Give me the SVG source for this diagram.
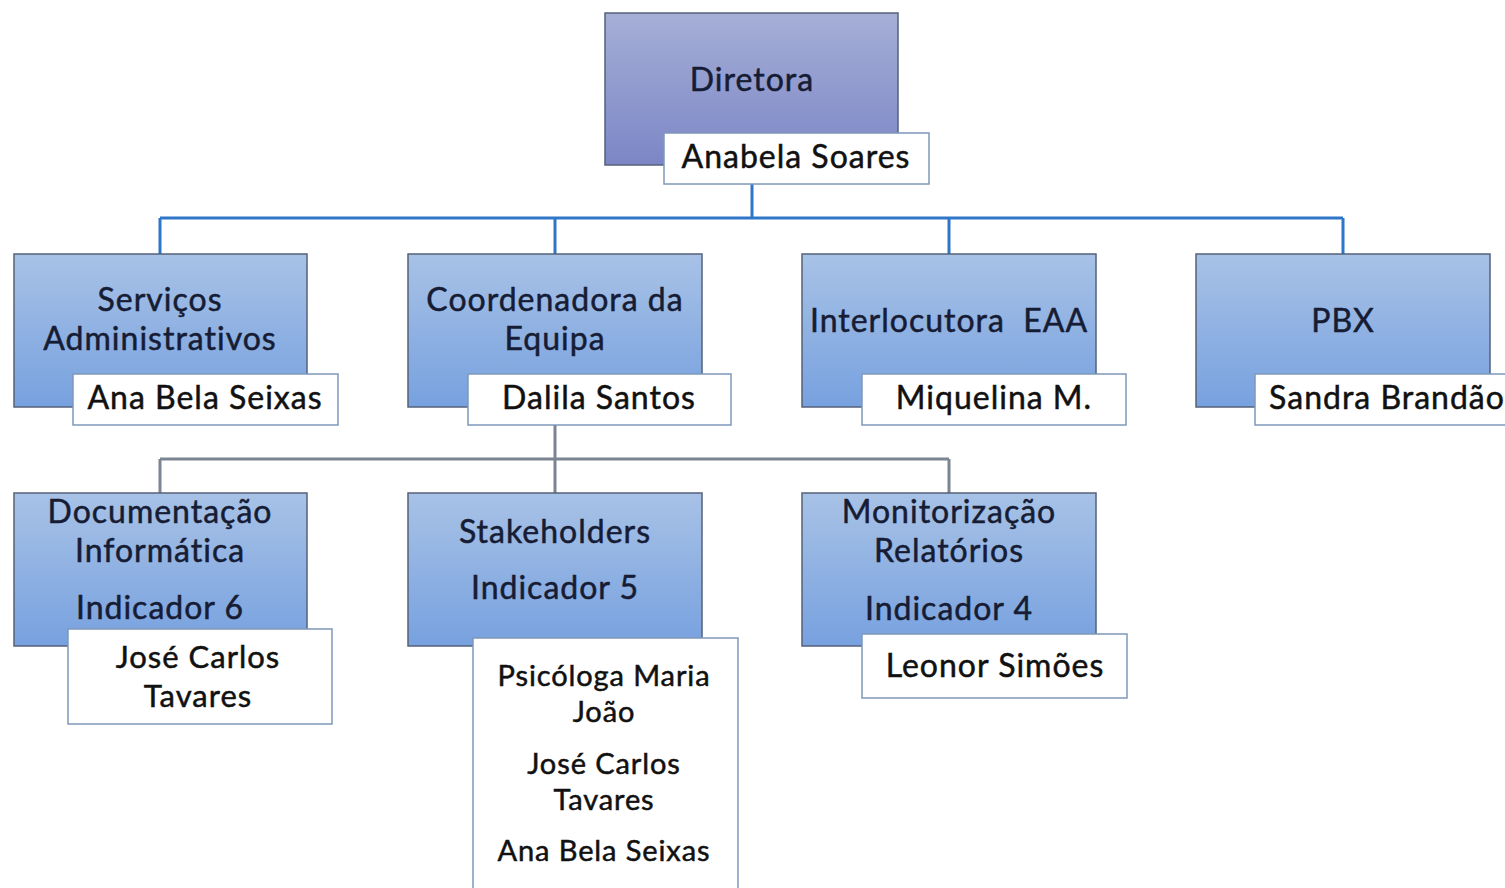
<svg xmlns="http://www.w3.org/2000/svg" width="1505" height="888" viewBox="0 0 1505 888">
<defs>
<linearGradient id="gTop" x1="0" y1="0" x2="0" y2="1">
<stop offset="0" stop-color="#a5afd6"/>
<stop offset="1" stop-color="#7c86c6"/>
</linearGradient>
<linearGradient id="gBox" x1="0" y1="0" x2="0" y2="1">
<stop offset="0" stop-color="#a8c2e6"/>
<stop offset="1" stop-color="#77a1df"/>
</linearGradient>
<style>
.box{fill:url(#gBox);stroke:#56627a;stroke-width:1.5}
.top{fill:url(#gTop);stroke:#56607a;stroke-width:1.5}
.name{fill:#ffffff;stroke:#7f98bb;stroke-width:1.5}
.t{font-family:Lato,"Open Sans","Liberation Sans",sans-serif;font-size:32px;letter-spacing:1px;fill:#161c34;stroke:#161c34;stroke-width:0.5;text-anchor:middle}
.n{font-family:Lato,"Open Sans","Liberation Sans",sans-serif;font-size:32px;letter-spacing:1px;fill:#111111;stroke:#111111;stroke-width:0.5;text-anchor:middle}
.s{font-size:29px;letter-spacing:0.9px}
.blue{fill:none;stroke:#2e77c8;stroke-width:3}
.gray{fill:none;stroke:#7b8591;stroke-width:3}
</style>
</defs>
<rect x="0" y="0" width="1505" height="888" fill="#ffffff"/>
<g id="connectors">
<path class="blue" d="M752 184 V218 M160 218 H1343 M160 218 V254 M555 218 V254 M949 218 V254 M1343 218 V254"/>
<path class="gray" d="M555 425 V493 M160 459 H949 M160 459 V493 M949 459 V493"/>
</g>
<g id="diretora">
<rect class="top" x="605" y="13" width="293" height="152"/>
<text class="t" x="752" y="91">Diretora</text>
<rect class="name" x="664" y="133" width="265" height="51"/>
<text class="n" x="796" y="168">Anabela Soares</text>
</g>
<g id="servicos">
<rect class="box" x="14" y="254" width="293" height="153"/>
<text class="t" x="160" y="311">Serviços</text>
<text class="t" x="160" y="350">Administrativos</text>
<rect class="name" x="73" y="374" width="265" height="51"/>
<text class="n" x="205" y="409">Ana Bela Seixas</text>
</g>
<g id="coordenadora">
<rect class="box" x="408" y="254" width="294" height="153"/>
<text class="t" x="555" y="311">Coordenadora da</text>
<text class="t" x="555" y="350">Equipa</text>
<rect class="name" x="468" y="374" width="263" height="51"/>
<text class="n" x="599" y="409">Dalila Santos</text>
</g>
<g id="interlocutora">
<rect class="box" x="802" y="254" width="294" height="153"/>
<text class="t" x="949" y="332" xml:space="preserve">Interlocutora  EAA</text>
<rect class="name" x="862" y="374" width="264" height="51"/>
<text class="n" x="994" y="409">Miquelina M.</text>
</g>
<g id="pbx">
<rect class="box" x="1196" y="254" width="294" height="153"/>
<text class="t" x="1343" y="332">PBX</text>
<rect class="name" x="1255" y="374" width="265" height="51"/>
<text class="n" x="1387" y="409">Sandra Brandão</text>
</g>
<g id="documentacao">
<rect class="box" x="14" y="493" width="293" height="153"/>
<text class="t" x="160" y="523">Documentação</text>
<text class="t" x="160" y="562">Informática</text>
<text class="t" x="160" y="619">Indicador 6</text>
<rect class="name" x="68" y="629" width="264" height="95"/>
<text class="n" x="198" y="668" style="font-size:31px">José Carlos</text>
<text class="n" x="198" y="707" style="font-size:31px">Tavares</text>
</g>
<g id="stakeholders">
<rect class="box" x="408" y="493" width="294" height="153"/>
<text class="t" x="555" y="543">Stakeholders</text>
<text class="t" x="555" y="599">Indicador 5</text>
<rect class="name" x="473" y="638" width="265" height="270"/>
<text class="n s" x="604" y="686">Psicóloga Maria</text>
<text class="n s" x="604" y="722">João</text>
<text class="n s" x="604" y="774">José Carlos</text>
<text class="n s" x="604" y="810">Tavares</text>
<text class="n s" x="604" y="861">Ana Bela Seixas</text>
</g>
<g id="monitorizacao">
<rect class="box" x="802" y="493" width="294" height="153"/>
<text class="t" x="949" y="523">Monitorização</text>
<text class="t" x="949" y="562">Relatórios</text>
<text class="t" x="949" y="620">Indicador 4</text>
<rect class="name" x="862" y="634" width="265" height="64"/>
<text class="n" x="995" y="677">Leonor Simões</text>
</g>
</svg>
